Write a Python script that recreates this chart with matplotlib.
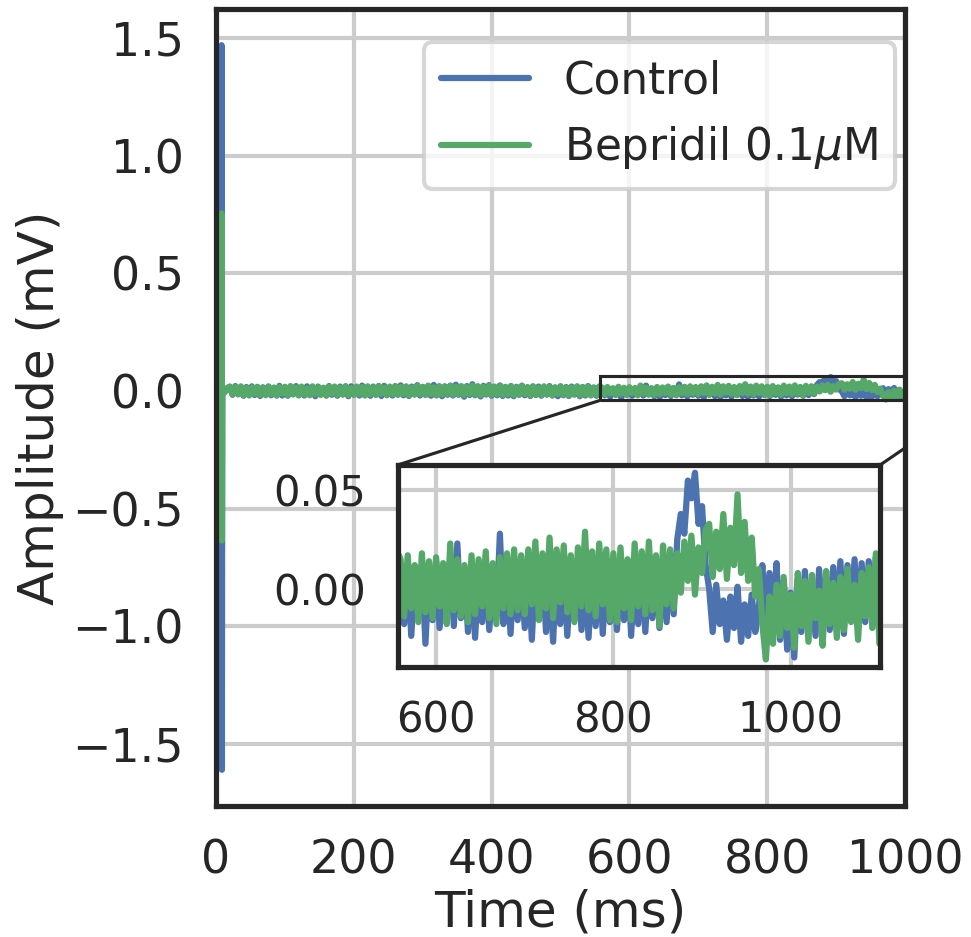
import numpy as np
import matplotlib
matplotlib.use("Agg")
import matplotlib.pyplot as plt
from matplotlib.patches import Rectangle, ConnectionPatch
import seaborn as sns

# ---------------- data (mV) ----------------
labels = ["Control", "Bepridil 0.1$\\mu$M"]

# stimulus spike, sampled finely around 8 ms
spike_time_ms = [0, 4, 7.5, 8, 8.5, 9, 12, 16]
control_spike = [0.000, 0.002, 0.004, 1.470, -1.610, 0.010, -0.006, 0.012]
bepridil_spike = [0.000, 0.001, 0.003, 0.755, -0.635, 0.008, -0.004, 0.010]

# remaining recording sampled every 4 ms from 20 to 1100 ms
trace_start_ms = 20
trace_end_ms = 1100
trace_step_ms = 4

# Control (blue)
control_base = [                                                          # 20..556 ms
    0.018, -0.016, 0.021, -0.014, 0.015, -0.020, 0.017, -0.013, 0.020, -0.017,
    0.014, -0.021, 0.016, -0.015, 0.019, -0.018, 0.013, -0.016, 0.022, -0.019,
    0.015, -0.020, 0.018, -0.014, 0.021, -0.017, 0.014, -0.019, 0.020, -0.013,
    0.016, -0.022, 0.019, -0.015, 0.013, -0.018, 0.021, -0.016, 0.015, -0.020,
    0.019, -0.014, 0.017, -0.022, 0.020, -0.015, 0.014, -0.019, 0.023, -0.017,
    0.015, -0.020, 0.019, -0.013, 0.018, -0.021, 0.022, -0.016, 0.014, -0.019,
    0.020, -0.015, 0.024, -0.018, 0.016, -0.021, 0.019, -0.014, 0.025, -0.019,
    0.017, -0.015, 0.021, -0.020, 0.026, -0.017, 0.018, -0.022, 0.020, -0.016,
    0.023, -0.019, 0.027, -0.016, 0.018, -0.024, 0.021, -0.017, 0.029, -0.018,
    0.019, -0.023, 0.022, -0.015, 0.025, -0.020, 0.017, -0.018, 0.024, -0.021,
    0.016, -0.019, 0.021, -0.022, 0.018, -0.016, 0.023, -0.018, 0.015, -0.021,
    0.020, -0.017, 0.019, -0.020, 0.017, -0.015, 0.021, -0.019, 0.014, -0.022,
    0.020, -0.018, 0.016, -0.021, 0.019, -0.015, 0.018, -0.022, 0.017, -0.019,
    0.021, -0.016, 0.015, -0.020, 0.018,
]
control_mid = [                                                           # 560..868 ms
    0.008, -0.018, 0.011, -0.024, 0.006, -0.013, 0.012, -0.028, 0.009, -0.016,
    0.014, -0.020, 0.007, -0.012, 0.016, -0.019, 0.023, -0.015, 0.010, -0.022,
    0.011, -0.025, 0.008, -0.017, 0.013, -0.021, 0.009, -0.014, 0.028, -0.018,
    0.010, -0.023, 0.012, -0.016, 0.009,
    -0.020, 0.012, -0.026, 0.010, -0.015, 0.014, -0.022, 0.008, -0.027, 0.013,
    -0.018, 0.011, -0.024, 0.009, -0.016, 0.015, -0.021, 0.010, -0.025, 0.012,
    -0.019, 0.014, -0.023, 0.008, -0.017,
    0.012, -0.021, 0.010, -0.016, 0.014, -0.024, 0.009, -0.018, 0.013, -0.022,
    0.011, -0.015, 0.016, -0.020, 0.012, -0.017, 0.018, -0.013,
]
control_peak = [0.025, 0.038, 0.028, 0.055, 0.046, 0.059, 0.033, 0.042, 0.012]   # 872..904 ms
control_post = [                                                          # 908..964 ms
    0.000, -0.022, 0.002, -0.018, -0.006, -0.026, -0.004, -0.020, 0.001, -0.027,
    -0.008, -0.024, -0.003, -0.022, -0.010,
]
control_tail = [                                                          # 968..1100 ms
    0.012, -0.020, 0.008, -0.015, 0.013, -0.026, 0.004, -0.031, -0.002, -0.035,
    0.005, -0.022, 0.009, -0.018, 0.003, -0.024, 0.010, -0.016, 0.006, -0.021,
    0.011, -0.019, 0.014, -0.023, 0.012, -0.015, 0.015, -0.020, 0.013, -0.017,
    0.014, -0.012, 0.016, -0.008,
]

# Bepridil 0.1 uM (green)
bepridil_base = [                                                         # 20..556 ms
    0.019, -0.015, 0.017, -0.013, 0.020, -0.017, 0.014, -0.019, 0.016, -0.012,
    0.018, -0.016, 0.013, -0.018, 0.019, -0.014, 0.015, -0.020, 0.017, -0.011,
    0.018, -0.017, 0.021, -0.013, 0.015, -0.019, 0.019, -0.015, 0.012, -0.018,
    0.020, -0.014, 0.017, -0.016, 0.014, -0.020, 0.018, -0.012, 0.019, -0.017,
    0.015, -0.015, 0.021, -0.018, 0.013, -0.016, 0.019, -0.013, 0.017, -0.019,
    0.020, -0.015, 0.016, -0.017, 0.022, -0.012, 0.015, -0.018, 0.019, -0.014,
    0.021, -0.016, 0.017, -0.013, 0.020, -0.018, 0.015, -0.015, 0.022, -0.014,
    0.018, -0.017, 0.023, -0.013, 0.016, -0.019, 0.021, -0.015, 0.018, -0.012,
    0.022, -0.016, 0.019, -0.014, 0.021, -0.017, 0.017, -0.013, 0.023, -0.015,
    0.020, -0.018, 0.018, -0.013, 0.022, -0.016, 0.019, -0.014, 0.021, -0.017,
    0.018, -0.014, 0.020, -0.018, 0.016, -0.015, 0.021, -0.013, 0.017, -0.019,
    0.019, -0.015, 0.015, -0.017, 0.020, -0.014, 0.018, -0.018, 0.016, -0.013,
    0.019, -0.016, 0.017, -0.019, 0.015, -0.014, 0.020, -0.017, 0.016, -0.015,
    0.018, -0.019, 0.014, -0.016, 0.019,
]
bepridil_mid = [                                                          # 560..868 ms
    0.015, -0.014, 0.017, -0.010, 0.012, -0.017, 0.018, -0.012, 0.014, -0.015,
    0.016, -0.009, 0.013, -0.018, 0.023, -0.011, 0.015, -0.014, 0.012, -0.017,
    0.017, -0.013, 0.015, -0.009, 0.019, -0.015, 0.013, -0.018, 0.016, -0.010,
    0.018, -0.013, 0.020, -0.011, 0.017,
    -0.013, 0.020, -0.008, 0.024, -0.016, 0.018, -0.010, 0.026, -0.015, 0.020,
    -0.007, 0.022, -0.012, 0.017, -0.017, 0.021, -0.009, 0.029, -0.011, 0.019,
    -0.014, 0.023, -0.008, 0.020, -0.016,
    0.018, -0.017, 0.021, -0.010, 0.015, -0.016, 0.023, -0.009, 0.019, -0.013,
    0.024, -0.011, 0.017, -0.019, 0.022, -0.008, 0.020, -0.010,
]
bepridil_peak = [0.018, -0.002, 0.024, 0.004, 0.027, -0.003, 0.021, 0.008, 0.030]  # 872..904 ms
bepridil_post = [                                                         # 908..964 ms
    0.033, 0.006, 0.029, 0.010, 0.038, 0.005, 0.031, 0.012, 0.048, 0.008,
    0.034, 0.004, 0.026, -0.004, 0.010,
]
bepridil_tail = [                                                         # 968..1100 ms
    -0.018, -0.036, -0.004, -0.028, 0.002, -0.024, 0.006, -0.020, -0.003, -0.030,
    0.008, -0.019, 0.004, -0.027, 0.007, -0.015, -0.001, -0.029, 0.009, -0.018,
    0.003, -0.025, 0.006, -0.021, 0.010, -0.017, 0.002, -0.026, 0.008, -0.014,
    0.011, -0.020, 0.018, -0.028,
]

# zoomed window shown in the inset
zoom_xlim = (557, 1101)
zoom_ylim = (-0.040, 0.063)

time_ms = np.concatenate([spike_time_ms,
                          np.arange(trace_start_ms, trace_end_ms + 1, trace_step_ms)])
control = np.array(control_spike + control_base + control_mid + control_peak
                   + control_post + control_tail)
bepridil = np.array(bepridil_spike + bepridil_base + bepridil_mid + bepridil_peak
                    + bepridil_post + bepridil_tail)

# ---------------- style ----------------
sns.set_theme(style="whitegrid", context="poster")
plt.rcParams['font.family'] = ['DejaVu Sans']
dark = "#262626"
colors = ["#4C72B0", "#55A868"]

fig = plt.figure(figsize=(971 / 150, 937 / 150), dpi=150)
ax = fig.add_axes([0.2225, 0.1398, 0.7096, 0.8506])

ax.plot(time_ms, control, color=colors[0], label=labels[0])
ax.plot(time_ms, bepridil, color=colors[1], label=labels[1])
ax.set_xlim(0, 1000)
ax.set_xlabel("Time (ms)", labelpad=2.5)
ax.set_ylabel("Amplitude (mV)")
for s in ax.spines.values():
    s.set_color(dark)
    s.set_linewidth(2.5)

ax.legend(loc="upper right", bbox_to_anchor=(0.9855, 0.9586), borderaxespad=0,
          fontsize=21)

# ---------------- inset ----------------
axins = ax.inset_axes([0.264, 0.174, 0.70, 0.254])
axins.plot(time_ms, control, color=colors[0])
axins.plot(time_ms, bepridil, color=colors[1])
axins.set_xlim(*zoom_xlim)
axins.set_ylim(*zoom_ylim)
axins.set_xticks([600, 800, 1000])
axins.set_yticks([0.00, 0.05])
axins.tick_params(labelsize=20)
axins.set_facecolor("white")
for s in axins.spines.values():
    s.set_color(dark)
    s.set_linewidth(2.5)

# zoom indicator (clipped to the main axes) and connectors
x0, x1 = zoom_xlim
y0, y1 = zoom_ylim
ax.add_patch(Rectangle((x0, y0), x1 - x0, y1 - y0, fill=False,
                       edgecolor=dark, linewidth=1.5, zorder=3))
for corner_ax, corner_data in [((0, 1), (x0, y0)), ((1, 1), (x1, y0))]:
    con = ConnectionPatch(xyA=corner_ax, coordsA=axins.transAxes,
                          xyB=corner_data, coordsB=ax.transData,
                          color=dark, linewidth=1.5, zorder=3)
    con.set_clip_on(True)
    con.set_clip_box(ax.bbox)
    ax.add_artist(con)

fig.savefig("out.png", dpi=150)
